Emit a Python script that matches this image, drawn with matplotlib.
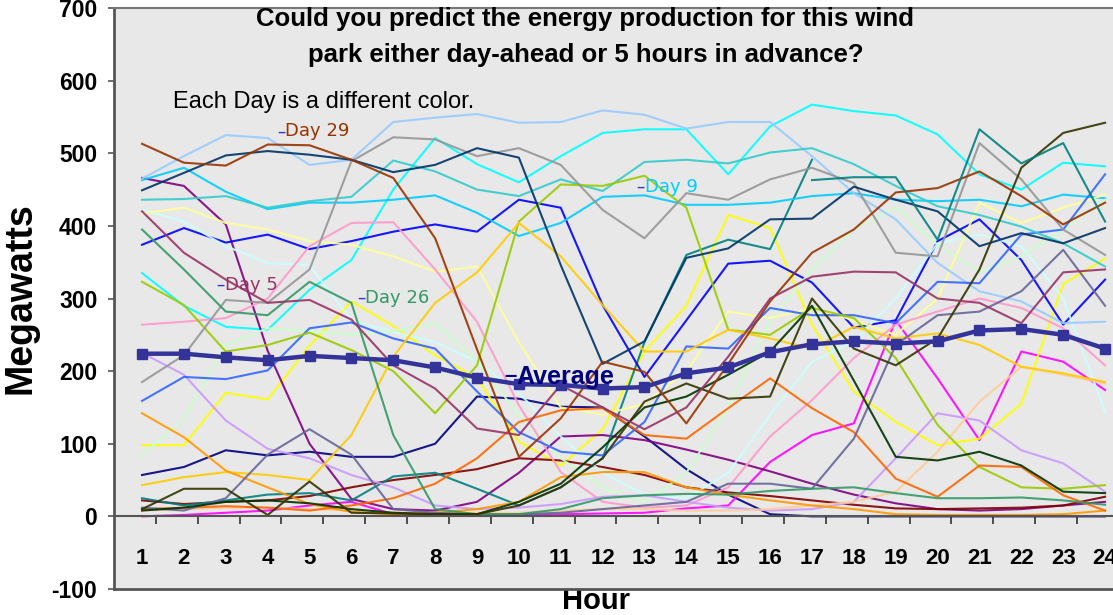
import numpy as np
import matplotlib.pyplot as plt

hours = list(range(1, 25))

# megawatts per hour, one list per day
day1 = [57, 68, 91, 84, 89, 82, 82, 100, 165, 162, 151, 150, 110, 65, 30, 3, 0, 0, 0, 0, 0, 0, 0, 0]
day2 = [0, 2, 5, 8, 15, 20, 3, 2, 1, 2, 3, 4, 5, 11, 15, 75, 112, 128, 270, 190, 105, 227, 213, 174]
day3 = [98, 98, 170, 161, 235, 296, 262, 222, 190, 103, 70, 120, 227, 290, 415, 397, 264, 172, 130, 98, 107, 155, 320, 355]
day4 = [335, 290, 261, 257, 312, 353, 450, 521, 485, 460, 496, 528, 533, 533, 471, 537, 567, 558, 552, 526, 471, 450, 487, 482]
day5 = [466, 455, 402, 228, 100, 24, 10, 8, 20, 60, 110, 112, 105, 92, 78, 62, 45, 30, 18, 10, 8, 10, 15, 20]
day6 = [22, 17, 20, 22, 28, 40, 50, 57, 65, 80, 77, 68, 57, 40, 33, 28, 22, 16, 11, 10, 11, 12, 15, 27]
day7 = [25, 15, 22, 30, 32, 22, 55, 60, 38, 15, 40, 80, 240, 360, 381, 368, 491] + [None] * 7
day8 = [374, 397, 377, 388, 368, 379, 392, 402, 392, 436, 425, 291, 192, 270, 348, 352, 322, 260, 270, 379, 409, 353, 264, 326]
day9 = [463, 480, 447, 423, 432, 432, 436, 442, 418, 386, 404, 440, 442, 429, 429, 432, 441, 445, 436, 434, 436, 427, 443, 438]
day10 = [422, 406, 372, 349, 346, 270, 254, 240, 213, 170, 110, 60, 30, 25, 60, 140, 213, 241, 300, 376, 388, 372, 300, 144]
day11 = [84, 135, 236, 259, 255, 250, 255, 266, 213, 140, 80, 40, 20, 60, 150, 270, 340, 395, 426, 374, 337, 358, 395, 436]
day12 = [417, 425, 404, 395, 379, 374, 358, 337, 344, 240, 150, 140, 155, 200, 282, 273, 287, 270, 250, 300, 432, 404, 425, 443]
day13 = [465, 496, 525, 521, 484, 491, 543, 549, 554, 542, 543, 559, 553, 534, 543, 543, 496, 445, 409, 349, 310, 296, 266, 268]
day14 = [264, 268, 273, 300, 372, 404, 405, 340, 268, 153, 61, 20, 12, 15, 40, 110, 160, 218, 264, 282, 300, 287, 259, 208]
day15 = [225, 195, 132, 93, 80, 57, 40, 15, 10, 12, 17, 27, 29, 20, 12, 8, 10, 20, 80, 142, 132, 91, 73, 34]
day16 = [8, 10, 12, 12, 10, 8, 5, 5, 5, 5, 8, 10, 10, 8, 8, 10, 15, 20, 34, 89, 158, 206, 195, 183]
day17 = [159, 192, 189, 201, 259, 267, 245, 231, 172, 116, 89, 84, 130, 234, 231, 287, 277, 277, 266, 323, 321, 388, 395, 471]
day18 = [436, 437, 441, 425, 434, 440, 490, 475, 450, 441, 464, 448, 488, 491, 486, 501, 507, 485, 455, 427, 415, 399, 376, 344]
day19 = [323, 291, 227, 236, 253, 229, 200, 142, 208, 406, 457, 455, 469, 425, 257, 250, 287, 273, 218, 126, 68, 40, 38, 43]
day20 = [43, 54, 61, 57, 50, 112, 220, 294, 336, 404, 358, 291, 227, 227, 257, 245, 231, 261, 245, 252, 236, 206, 197, 185]
day21 = [142, 109, 63, 40, 17, 6, 3, 5, 10, 20, 54, 61, 61, 40, 30, 22, 15, 10, 3, 2, 2, 2, 3, 8]
day22 = [10, 12, 14, 12, 8, 15, 25, 45, 80, 130, 146, 149, 112, 107, 149, 190, 149, 116, 52, 27, 70, 68, 29, 8]
day23 = [12, 8, 25, 85, 120, 85, 10, 5, 3, 3, 5, 10, 15, 20, 45, 45, 38, 107, 236, 277, 282, 310, 367, 290]
day24 = [185, 222, 298, 294, 340, 489, 522, 519, 496, 507, 484, 422, 383, 445, 436, 464, 480, 459, 363, 358, 514, 464, 395, 360]
day25 = [449, 473, 497, 503, 498, 491, 474, 484, 507, 494, 346, 210, 241, 356, 369, 409, 410, 454, 436, 420, 372, 390, 376, 397]
day26 = [395, 340, 282, 277, 323, 294, 112, 10, 3, 3, 10, 25, 29, 31, 30, 35, 38, 40, 32, 25, 25, 26, 22, 16]
day27 = [8, 12, 20, 22, 18, 10, 5, 3, 3, 20, 45, 95, 150, 165, 195, 227, 290, 187, 82, 77, 89, 70, 34, 32]
day28 = [10, 38, 38, 2, 48, 5, 4, 3, 3, 15, 40, 80, 158, 183, 162, 165, 300, 231, 208, 245, 340, 480, 528, 542]
day29 = [513, 487, 483, 512, 511, 491, 466, 383, 230, 82, 135, 213, 199, 128, 210, 296, 363, 395, 446, 452, 475, 441, 402, 432]
day30 = [420, 363, 326, 294, 298, 271, 208, 176, 121, 112, 181, 150, 120, 150, 220, 300, 330, 337, 336, 300, 294, 266, 336, 340]
day7_tail = [None] * 16 + [463, 467, 467, 381, 533, 486, 514, 406]
average = [224, 224, 219, 215, 221, 218, 215, 205, 191, 182, 181, 176, 178, 197, 205, 226, 237, 241, 238, 241, 256, 258, 250, 231]

days = [day1, day2, day3, day4, day5, day6, day7, day8, day9, day10,
        day11, day12, day13, day14, day15, day16, day17, day18, day19, day20,
        day21, day22, day23, day24, day25, day26, day27, day28, day29, day30, day7_tail]
# old excel series palette
colors = ['#000080', '#FF00FF', '#FFFF00', '#00FFFF', '#800080', '#800000', '#008080', '#0000FF',
          '#00CCFF', '#CCFFFF', '#CCFFCC', '#FFFF99', '#99CCFF', '#FF99CC', '#CC99FF', '#FFCC99',
          '#3366FF', '#33CCCC', '#99CC00', '#FFCC00', '#FF9900', '#FF6600', '#666699', '#969696',
          '#003366', '#339966', '#003300', '#333300', '#993300', '#993366', '#008080']

plt.rcParams['font.family'] = ['Liberation Sans', 'DejaVu Sans']

fig = plt.figure(figsize=(11.13, 6.15), dpi=100)
ax = fig.add_axes([114 / 1113, 26 / 615, 1012 / 1113, 581 / 615])
ax.set_facecolor('#e8e8e8')

for vals, c in zip(days, colors):
    ax.plot(hours, np.array(vals, dtype=float), color=c, lw=1.5, alpha=0.9)

ax.plot(hours, average, color='#333399', lw=3.2, marker='s', ms=7, mec='#333399')

ax.set_xlim(0.33, 24.5)
ax.set_ylim(-100, 700)

ax.spines['bottom'].set_position(('data', 0))
ax.spines['bottom'].set_color('#555555')
ax.spines['bottom'].set_linewidth(1.5)
ax.spines['left'].set_color('#555555')
ax.spines['left'].set_linewidth(2)
ax.spines['top'].set_color('#777777')
ax.spines['top'].set_linewidth(1.5)
ax.spines['right'].set_visible(False)
ax.axhline(-100, color='#555555', lw=2, clip_on=False)

ax.set_xticks(hours)
ax.set_xticklabels([str(h) for h in hours], fontsize=16, fontweight='bold')
ax.set_xticks([h + 0.33 for h in hours[:-1]], minor=True)
ax.tick_params(axis='x', which='major', length=0, pad=23)
ax.tick_params(axis='x', which='minor', length=6, width=1.2, color='#333333', direction='out')

ax.set_yticks(range(-100, 701, 100))
ax.set_yticklabels([str(v) for v in range(-100, 701, 100)], fontsize=16.5, fontweight='bold')
ax.tick_params(axis='y', length=4, width=1.2, color='#555555', pad=8)

ax.set_ylabel('Megawatts', fontsize=27, fontweight='bold')
ax.yaxis.set_label_coords(-0.075, 0.5)
ax.set_xlabel('Hour', fontsize=21, fontweight='bold')
ax.xaxis.set_label_coords(0.476, 0.004)

fig.text(0.526, 1 - 37 / 615, 'Could you predict the energy production for this wind\n'
         'park either day-ahead or 5 hours in advance?',
         ha='center', va='center', fontsize=18.5, fontweight='bold', linespacing=1.63)
ax.text(1.74, 571, 'Each Day is a different color.', fontsize=17, va='center')

narrow = ['Liberation Sans Narrow', 'DejaVu Sans']
labels = [(4.22, 530, 'Day 29', '#993300'), (2.78, 319, 'Day 5', '#993366'),
          (6.13, 301, 'Day 26', '#339966'), (12.81, 454, 'Day 9', '#00CCFF')]
for x, y, txt, c in labels:
    ax.text(x, y, '\u2013', color='#3333cc', fontsize=12, va='center', family=narrow)
    ax.text(x + 0.2, y, txt, color=c, fontsize=13, va='center', family=narrow)
ax.text(9.65, 192, '\u2013', color='#000080', fontsize=16, va='center', fontweight='bold')
ax.text(9.93, 192, 'Average', color='#000080', fontsize=18, va='center', fontweight='bold')

fig.savefig('out.png', dpi=100)
